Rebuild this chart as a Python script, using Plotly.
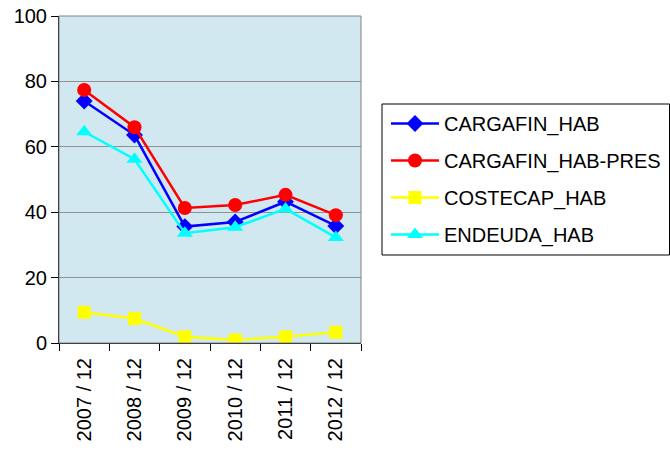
import plotly.graph_objects as go

categories = ["2007 / 12", "2008 / 12", "2009 / 12", "2010 / 12", "2011 / 12", "2012 / 12"]
cargafin_hab = [74.0, 63.6, 35.6, 37.0, 43.2, 35.8]
cargafin_hab_pres = [77.4, 66.0, 41.3, 42.2, 45.3, 39.1]
costecap_hab = [9.4, 7.5, 1.9, 0.9, 1.9, 3.3]
endeuda_hab = [64.6, 56.2, 33.6, 35.4, 41.0, 32.3]

series = [
    ("CARGAFIN_HAB", cargafin_hab, "#0000FF", "diamond", 13),
    ("CARGAFIN_HAB-PRES", cargafin_hab_pres, "#FF0000", "circle", 14),
    ("COSTECAP_HAB", costecap_hab, "#FFFF00", "square", 13),
    ("ENDEUDA_HAB", endeuda_hab, "#00FFFF", "triangle-up", 14),
]

fig = go.Figure()
for i, (name, vals, color, sym, size) in enumerate(series):
    fig.add_trace(go.Scatter(
        x=categories, y=vals, name=name, mode="lines+markers",
        line=dict(color=color, width=2.5),
        marker=dict(symbol=sym, size=size, color=color, line=dict(width=0)),
        legendgroup=f"g{i}",
    ))

W, L, R, T, B = 670, 59, 309, 16, 109
pw, ph = W - L - R, 452 - T - B

fig.update_layout(
    width=670, height=452,
    margin=dict(l=L, r=R, t=T, b=B, autoexpand=False),
    plot_bgcolor="#D2E8F0",
    paper_bgcolor="white",
    font=dict(family="Liberation Sans, Arial", size=20, color="black"),
    showlegend=True,
    legend=dict(
        x=(386 - L) / pw, y=(452 - B - 104) / ph, xanchor="left", yanchor="top",
        borderwidth=0, bgcolor="rgba(0,0,0,0)",
        font=dict(size=20), tracegroupgap=8, traceorder="grouped", itemwidth=48,
    ),
    shapes=[
        dict(type="rect", xref="paper", yref="paper", x0=0, x1=1, y0=0, y1=1,
             line=dict(color="#808080", width=1), layer="above"),
        dict(type="rect", xref="paper", yref="paper",
             x0=(382 - L) / pw, x1=(669.5 - L) / pw,
             y0=(452 - B - 255) / ph, y1=(452 - B - 104) / ph,
             line=dict(color="black", width=1), fillcolor="rgba(0,0,0,0)", layer="below"),
    ],
)
fig.update_xaxes(
    type="category", showgrid=False, showline=True, linecolor="black", linewidth=1,
    ticks="outside", tickson="boundaries", ticklen=7, tickcolor="black",
    tickangle=-90, tickfont=dict(size=20), range=[-0.5, 5.5], automargin=False,
    ticklabelstandoff=6,
)
fig.update_yaxes(
    range=[0, 100], dtick=20, showgrid=True, gridcolor="#909090", gridwidth=1,
    showline=True, linecolor="black", linewidth=1, ticks="outside", ticklen=7,
    tickcolor="black", tickfont=dict(size=20), zeroline=False, automargin=False,
)

fig.write_html(
    "out.html",
    config={"displayModeBar": False},
    post_script="document.body.style.margin='0';document.body.style.overflow='hidden';",
)
